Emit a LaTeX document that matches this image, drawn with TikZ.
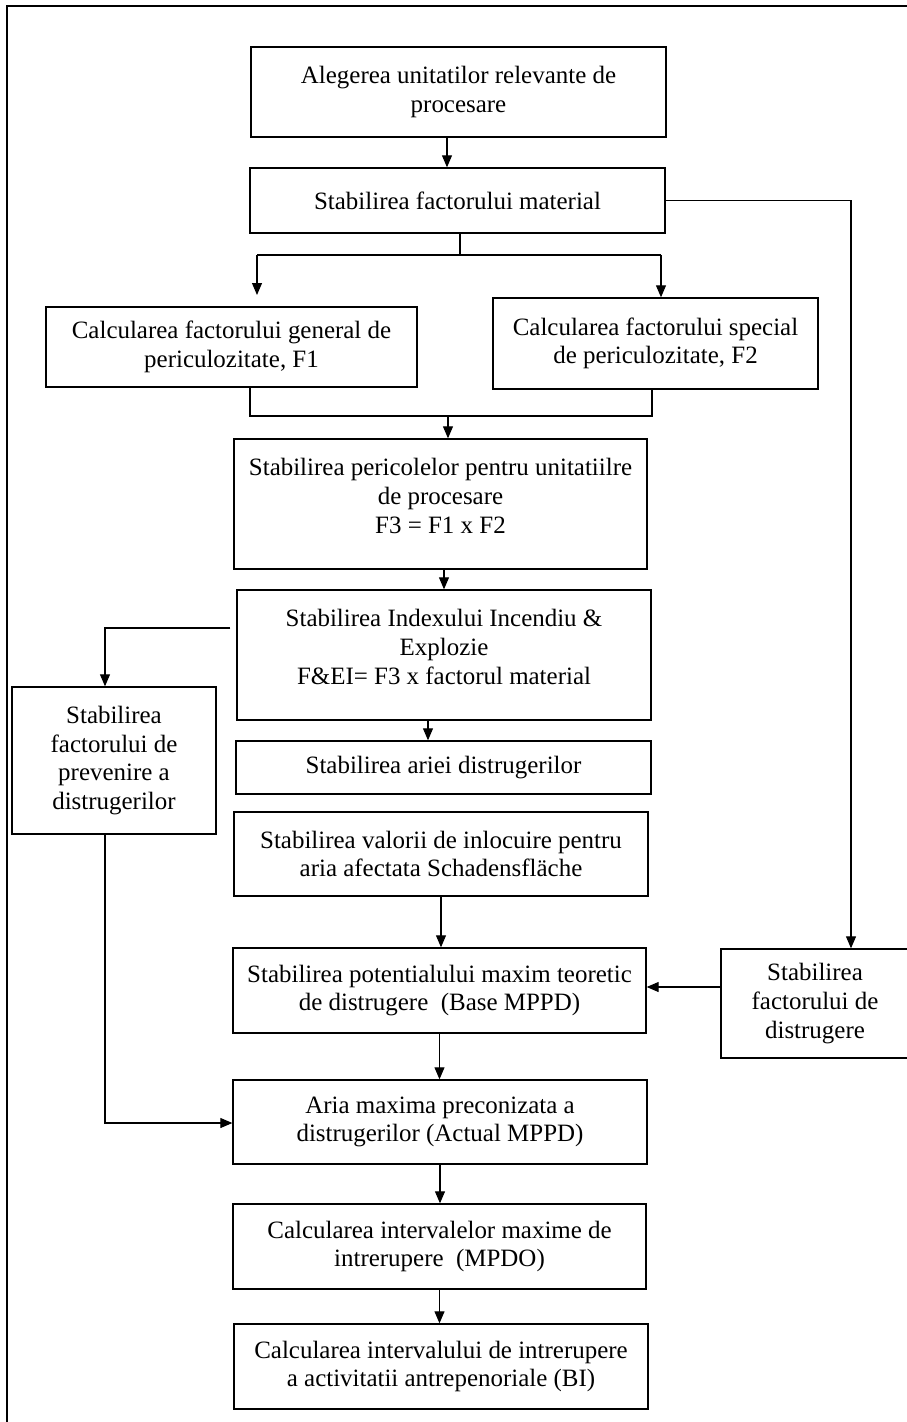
\documentclass[tikz,border=0pt]{standalone}
\usepackage{fontspec}
\setmainfont{Liberation Serif}
\usetikzlibrary{arrows.meta}

\begin{document}
\begin{tikzpicture}[x=0.02cm, y=-0.02cm,
    box/.style={draw, line width=0.8pt, align=center, inner sep=0pt,
      font=\fontsize{14.2}{16.3}\selectfont},
    arr/.style={-{Triangle[length=0.24cm, width=0.2cm]}, line width=0.6pt},
    link/.style={line width=0.6pt}]
  \useasboundingbox (0,0) rectangle (906,1422);
  \draw[line width=1.1pt] (7,1430) -- (7,6) -- (915,6);

  \node[box, minimum width=8.3cm, minimum height=1.8cm] (alegere) at (458.5,92) {Alegerea unitatilor relevante de\\procesare};
  \node[box, minimum width=8.3cm, minimum height=1.3cm] (material) at (457.5,200.5) {Stabilirea factorului material};
  \node[box, minimum width=7.42cm, minimum height=1.6cm] (general) at (231.5,347) {Calcularea factorului general de\\periculozitate, F1};
  \node[box, minimum width=6.5cm, minimum height=1.82cm] (special) at (655.5,343.5) {Calcularea factorului special\\de periculozitate, F2};
  \node[box, minimum width=8.26cm, minimum height=2.6cm] (pericole) at (440.5,504) {Stabilirea pericolelor pentru unitatiilre\\de procesare\\F3 = F1 x F2\\[-7pt]\mbox{}};
  \node[box, minimum width=8.28cm, minimum height=2.6cm] (index) at (444,655) {Stabilirea Indexului Incendiu \&\\Explozie\\F\&EI= F3 x factorul material\\[-7pt]\mbox{}};
  \node[box, minimum width=4.08cm, minimum height=2.94cm] (prevenire) at (114,760.5) {Stabilirea\\factorului de\\prevenire a\\distrugerilor};
  \node[box, minimum width=8.3cm, minimum height=1.06cm] (aria) at (443.5,767.5) {Stabilirea ariei distrugerilor};
  \node[box, minimum width=8.28cm, minimum height=1.68cm] (valori) at (441,854) {Stabilirea valorii de inlocuire pentru\\aria afectata Schadensfläche};
  \node[box, minimum width=8.26cm, minimum height=1.7cm] (base) at (439.5,990.5) {Stabilirea potentialului maxim teoretic\\de distrugere\ \ (Base MPPD)};
  \node[box, minimum width=3.76cm, minimum height=2.18cm] (distrugere) at (815,1003.5) {Stabilirea\\factorului de\\distrugere};
  \node[box, minimum width=8.28cm, minimum height=1.68cm] (actual) at (440,1122) {Aria maxima preconizata a\\distrugerilor (Actual MPPD)};
  \node[box, minimum width=8.26cm, minimum height=1.7cm] (mpdo) at (439.5,1246.5) {Calcularea intervalelor maxime de\\intrerupere\ \ (MPDO)};
  \node[box, minimum width=8.28cm, minimum height=1.7cm] (bi) at (441,1366.5) {Calcularea intervalului de intrerupere\\a activitatii antrepenoriale (BI)};

  \coordinate (ab) at (447,0);
  \coordinate (split) at (460,255);
  \coordinate (sl) at (257,255);
  \coordinate (slend) at (257,295);
  \coordinate (sr) at (661,255);
  \coordinate (rt) at (851,200.5);
  \coordinate (jl) at (250,416);
  \coordinate (jm) at (448,416);
  \coordinate (jr) at (652,416);
  \coordinate (ih) at (428,0);
  \coordinate (gl) at (105,628);
  \coordinate (kj) at (0,987);
  \coordinate (gb) at (105,1123);

  \draw[arr] (alegere.south -| ab) -- (material.north -| ab);
  \draw[link] (material.south -| split) -- (split) (sl) -- (sr);
  \draw[arr] (sl) -- (slend);
  \draw[arr] (sr) -- (special.north -| sr);
  \draw[arr] (material.east) -- (rt) -- (rt |- distrugere.north);
  \draw[link] (general.south -| jl) -- (jl) -- (jr) -- (special.south -| jr);
  \draw[arr] (jm) -- (pericole.north -| jm);
  \draw[arr] (pericole.south -| index.north) -- (index.north);
  \draw[arr, shorten <=0.12cm] (index.west |- gl) -- (gl) -- (gl |- prevenire.north);
  \draw[arr] (index.south -| ih) -- (aria.north -| ih);
  \draw[arr] (valori.south) -- (valori.south |- base.north);
  \draw[arr] (distrugere.west |- kj) -- (base.east |- kj);
  \draw[arr] (base.south) -- (base.south |- actual.north);
  \draw[arr] (prevenire.south -| gb) -- (gb) -- (actual.west |- gb);
  \draw[arr] (actual.south) -- (actual.south |- mpdo.north);
  \draw[arr] (mpdo.south) -- (mpdo.south |- bi.north);
\end{tikzpicture}
\end{document}
